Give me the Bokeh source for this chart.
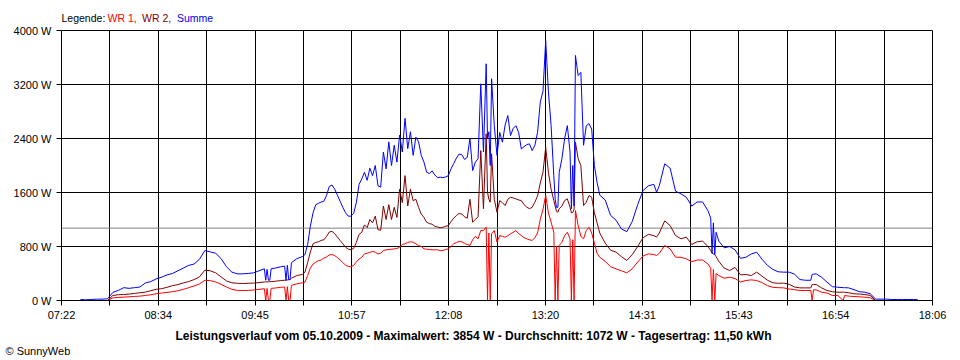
import math
from bokeh.plotting import figure
from bokeh.layouts import column
from bokeh.models import (Range1d, FixedTicker, CustomJSTickFormatter, PrintfTickFormatter,
                          Span, ColumnDataSource, Title)
from bokeh.core.properties import value
from bokeh.embed import file_html
from bokeh.resources import INLINE

nan = float("nan")

# ---------------- data ----------------
times = [
    "07:36", "07:40", "07:44", "07:48", "07:52", "07:56", "08:00", "08:04", "08:08", "08:12",
    "08:16", "08:20", "08:24", "08:28", "08:32", "08:36", "08:40", "08:44", "08:48", "08:52",
    "08:56", "09:00", "09:04", "09:08", "09:12", "09:16", "09:20", "09:24", "09:28", "09:32",
    "09:36", "09:40", "09:44", "09:48", "09:52", "09:53", "09:54", "09:55", "09:56", "09:57",
    "10:00", "10:04", "10:07", "10:08", "10:09", "10:10", "10:11", "10:12", "10:16", "10:20",
    "10:22", "10:24", "10:26", "10:28", "10:30", "10:32", "10:34", "10:36", "10:38", "10:40",
    "10:42", "10:44", "10:46", "10:48", "10:50", "10:52", "10:54", "10:56", "10:58", "11:00",
    "11:02", "11:04", "11:06", "11:08", "11:10", "11:12", "11:14", "11:16", "11:18", "11:20",
    "11:22", "11:24", "11:26", "11:28", "11:30", "11:32", "11:34", "11:36", "11:38", "11:40",
    "11:42", "11:44", "11:46", "11:48", "11:50", "11:52", "11:54", "11:56", "11:58", "12:00",
    "12:02", "12:04", "12:06", "12:08", "12:10", "12:12", "12:14", "12:16", "12:18", "12:20",
    "12:22", "12:24", "12:26", "12:28", "12:30", "12:32", "12:34", "12:36", "12:37", "12:38",
    "12:39", "12:40", "12:42", "12:44", "12:46", "12:48", "12:50", "12:52", "12:54", "12:56",
    "12:58", "13:00", "13:02", "13:04", "13:06", "13:08", "13:10", "13:12", "13:14", "13:16",
    "13:18", "13:20", "13:22", "13:24", "13:26", "13:27", "13:28", "13:29", "13:30", "13:32",
    "13:34", "13:36", "13:38", "13:39", "13:40", "13:41", "13:42", "13:44", "13:46", "13:48",
    "13:50", "13:52", "13:54", "13:56", "13:58", "14:00", "14:04", "14:08", "14:12", "14:16",
    "14:20", "14:24", "14:28", "14:32", "14:36", "14:40", "14:42", "14:44", "14:48", "14:52",
    "14:56", "15:00", "15:04", "15:08", "15:12", "15:16", "15:20", "15:22", "15:23", "15:24",
    "15:25", "15:26", "15:28", "15:32", "15:36", "15:40", "15:44", "15:48", "15:52", "15:56",
    "16:00", "16:04", "16:08", "16:12", "16:16", "16:20", "16:24", "16:28", "16:32", "16:36",
    "16:37", "16:38", "16:40", "16:44", "16:48", "16:52", "16:56", "17:00", "17:01", "17:04",
    "17:08", "17:12", "17:16", "17:20", "17:24", "17:28", "17:32", "17:36", "17:40", "17:44",
    "17:48", "17:52", "17:55",
]

summe = [
    15, 10, 15, 20, 20, 25, 120, 150, 190, 180,
    190, 200, 260, 280, 320, 345, 380, 400, 440, 480,
    520, 540, 610, 740, 720, 700, 620, 500, 420, 395,
    395, 400, 410, 440, 470, 300, 460, 300, 300, 470,
    480, 500, 510, 300, 520, 310, 310, 560, 620, 650,
    680, 830, 1100, 1300, 1420, 1440, 1460, 1470, 1560, 1690,
    1710, 1650, 1560, 1470, 1380, 1300, 1250, 1250, 1290, 1450,
    1720, 1800, 1900, 1780, 1960, 1850, 2000, 1700, 1680, 2200,
    1950, 2350, 2000, 2300, 2050, 2450, 2200, 2700, 2250, 2500,
    2150, 2420, 2350, 2150, 2050, 1900, 1880, 1920, 1860, 1820,
    1827, 1820, 1830, 1850, 1950, 2030, 2110, 2170, 2160, 2090,
    2120, 2400, 1925, 2050, 2100, 3210, 2200, 3507, 2400, 2500,
    2000, 3285, 2590, 2150, 2490, 2345, 2600, 2740, 2444, 2550,
    2590, 2490, 2245, 2280, 2310, 2320, 2220, 2300, 2490, 2940,
    3100, 3850, 3100, 2590, 1850, 1500, 1380, 1380, 1900, 2100,
    2400, 2590, 2200, 1360, 2000, 1400, 3630, 3333, 3380, 2300,
    2590, 2620, 2540, 2000, 1750, 1560, 1490, 1260, 1190, 1060,
    1020, 1170, 1420, 1630, 1700, 1720, 1605, 1700, 2025, 1960,
    1620, 1580, 1530, 1400, 1460, 1460, 1330, 1220, 700, 1150,
    680, 1010, 880, 780, 800, 750, 625, 640, 690, 715,
    610, 520, 460, 425, 420, 420, 390, 310, 300, 300,
    385, 390, 395, 345, 272, 205, 197, 190, 190, 187,
    160, 130, 123, 99, 20, 20, 20, 15, 15, 15,
    15, 15, 15,
]

wr2 = [
    nan, nan, nan, nan, nan, 0, 75, 85, 90, 95,
    105, 115, 125, 145, 165, 175, 195, 220, 235, 260,
    280, 310, 350, 450, 440, 410, 350, 290, 262, 255,
    252, 255, 258, 265, 275, 275, 276, 277, 278, 280,
    285, 295, 300, 300, 305, 308, 310, 330, 370, 385,
    420, 560, 720, 840, 860, 870, 890, 900, 950, 1015,
    1025, 990, 940, 890, 840, 790, 760, 755, 770, 860,
    980, 1010, 1120, 1080, 1200, 1150, 1250, 1050, 1040, 1400,
    1200, 1420, 1200, 1380, 1230, 1650, 1450, 1850, 1400, 1650,
    1480, 1500, 1380, 1280, 1230, 1160, 1140, 1130, 1100, 1090,
    1077, 1085, 1100, 1110, 1170, 1220, 1260, 1290, 1280, 1240,
    1220, 1500, 1160, 1200, 1240, 2222, 1360, 2470, 1600, 1500,
    1456, 2173, 1500, 1308, 1480, 1450, 1407, 1500, 1530, 1520,
    1506, 1490, 1480, 1420, 1382, 1360, 1380, 1456, 1550, 1740,
    1900, 2271, 1900, 1650, 1480, 1400, 1320, 1308, 1360, 1400,
    1480, 1506, 1380, 1300, 1300, 1350, 2345, 2100, 2000, 1407,
    1456, 1555, 1530, 1300, 1150, 1000, 850, 745, 716, 650,
    593, 680, 800, 930, 980, 960, 940, 1000, 1180, 1110,
    963, 914, 938, 830, 870, 880, 800, 740, 700, 690,
    680, 650, 580, 480, 444, 490, 380, 385, 370, 420,
    360, 300, 262, 255, 257, 240, 200, 187, 187, 187,
    237, 237, 237, 187, 148, 130, 123, 123, 123, 115,
    100, 95, 89, 75, 0, nan, nan, nan, nan, nan,
    nan, nan, nan,
]

wr1 = [
    nan, nan, nan, nan, nan, 0, 40, 45, 50, 55,
    60, 65, 75, 85, 100, 110, 120, 130, 145, 165,
    190, 215, 245, 300, 295, 275, 240, 200, 165, 150,
    148, 150, 155, 165, 175, 0, 178, 0, 0, 180,
    185, 195, 200, 0, 205, 0, 0, 225, 247, 262,
    270, 370, 480, 540, 568, 590, 600, 630, 645, 675,
    681, 665, 635, 600, 560, 525, 505, 500, 520, 570,
    615, 640, 690, 700, 715, 726, 715, 690, 700, 740,
    751, 755, 760, 765, 770, 790, 830, 840, 860, 870,
    864, 840, 815, 800, 765, 760, 755, 751, 751, 751,
    740, 740, 755, 765, 800, 840, 860, 874, 870, 845,
    830, 815, 900, 950, 914, 1037, 1037, 1086, 0, 1000,
    0, 988, 1037, 864, 963, 950, 938, 960, 988, 1010,
    1037, 990, 963, 930, 914, 900, 889, 930, 1000, 1200,
    1350, 1556, 1300, 1160, 1012, 0, 800, 0, 815, 864,
    960, 1012, 914, 0, 900, 0, 1333, 1111, 950, 914,
    1037, 1086, 1000, 850, 700, 640, 580, 500, 469, 440,
    410, 470, 570, 660, 691, 680, 667, 700, 815, 765,
    642, 640, 617, 575, 600, 600, 540, 480, 0, 460,
    0, 400, 370, 330, 345, 325, 275, 296, 306, 296,
    265, 220, 195, 190, 187, 170, 160, 148, 148, 148,
    0, 158, 158, 123, 110, 74, 74, 0, 74, 65,
    59, 55, 49, 40, 0, nan, nan, nan, nan, nan,
    nan, nan, nan,
]

x_tick_labels = ["07:22", "08:34", "09:45", "10:57", "12:08", "13:20", "14:31", "15:43", "16:54", "18:06"]
y_tick_values = [0, 800, 1600, 2400, 3200, 4000]
average_w = 1072
legend_parts = ["Legende:", "WR 1,", "WR 2,", "Summe"]
caption = ("Leistungsverlauf vom 05.10.2009 - Maximalwert: 3854 W - "
           "Durchschnitt: 1072 W - Tagesertrag: 11,50 kWh")
copyright_text = "\u00a9 SunnyWeb"

# ---------------- layout constants ----------------
FONT = "Liberation Sans"
FRAME_L, FRAME_R = 61, 16
FRAME_W, FRAME_H = 871, 270
HDR_H = 24
MAIN_TOP = 6
MAIN_BOTTOM = 58

# ---------------- build ----------------
def to_min(s):
    h, m = s.split(":")
    return int(h) * 60 + int(m)

t = [to_min(s) for s in times]
t0 = to_min(x_tick_labels[0])
t1 = to_min(x_tick_labels[-1])
n_div = 2 * (len(x_tick_labels) - 1)
step = (t1 - t0) / n_div
x_ticks = [t0 + i * step for i in range(n_div + 1)]
x_ticks[-1] = t1

src = ColumnDataSource(dict(t=t, summe=summe, wr1=wr1, wr2=wr2))

p = figure(frame_width=FRAME_W, frame_height=FRAME_H,
           x_range=Range1d(t0, t1), y_range=Range1d(0, 4000),
           output_backend="svg", toolbar_location=None,
           min_border_left=FRAME_L, min_border_right=FRAME_R,
           min_border_top=MAIN_TOP, min_border_bottom=MAIN_BOTTOM,
           background_fill_color="white", border_fill_color="white")

p.outline_line_color = "black"
p.outline_line_width = 1

p.xaxis.ticker = FixedTicker(ticks=x_ticks)
p.xaxis.formatter = CustomJSTickFormatter(
    args=dict(labels=x_tick_labels, t0=t0, step=step),
    code="""
        const i = Math.round((tick - t0) / step);
        if (i % 2 !== 0) return '';
        return labels[i / 2];
    """)
p.yaxis.ticker = FixedTicker(ticks=y_tick_values)
p.yaxis.formatter = PrintfTickFormatter(format="%d W")

for ax in (p.xaxis, p.yaxis):
    ax.axis_line_color = "black"
    ax.major_tick_line_color = "black"
    ax.major_tick_in = 0
    ax.major_tick_out = 5
    ax.minor_tick_line_color = None
    ax.major_label_text_font = FONT
    ax.major_label_text_font_size = "11px"
    ax.major_label_text_color = "black"
p.xaxis.major_label_standoff = 3
p.yaxis.major_label_standoff = 5

p.xgrid.ticker = FixedTicker(ticks=x_ticks)
p.ygrid.ticker = FixedTicker(ticks=y_tick_values)
for g in (p.xgrid, p.ygrid):
    g.grid_line_color = "black"
    g.grid_line_alpha = 1.0
    g.grid_line_width = 1

p.add_layout(Span(location=average_w, dimension="width",
                  line_color="#808080", line_width=1, level="underlay"))

p.line("t", "wr1", source=src, line_color="#ff0000", line_width=1)
p.line("t", "wr2", source=src, line_color="#800000", line_width=1)
p.line("t", "summe", source=src, line_color="#0000ff", line_width=1)

# footer texts as titles below the axis (not clipped to the frame)
p.add_layout(Title(text=caption, align="left", offset=114, standoff=7,
                   text_font=FONT, text_font_size="12px", text_font_style="bold",
                   text_color="black"), "below")
p.add_layout(Title(text=copyright_text, align="left", offset=-56, standoff=-8,
                   text_font=FONT, text_font_size="11px", text_font_style="normal",
                   text_color="black"), "below")

# header strip with the coloured legend line (frame aligned with the main frame)
hdr = figure(frame_width=FRAME_W, frame_height=HDR_H,
             x_range=Range1d(FRAME_L, FRAME_L + FRAME_W), y_range=Range1d(HDR_H, 0),
             output_backend="svg", toolbar_location=None,
             min_border_left=FRAME_L, min_border_right=FRAME_R,
             min_border_top=0, min_border_bottom=0,
             background_fill_color="white", border_fill_color="white")
hdr.outline_line_color = None
hdr.axis.visible = False
hdr.grid.visible = False
legend_colors = ["black", "#ff0000", "#800000", "#0000ff"]
legend_x = [61, 107, 141.5, 176.5]
hdr.text(x=legend_x, y=[17] * 4, text=legend_parts, text_color=legend_colors,
         text_font=value(FONT), text_font_size="10.5px",
         text_baseline="middle", text_align="left")

layout = column(hdr, p, spacing=0)

open("out.html", "w").write(file_html(layout, INLINE))
